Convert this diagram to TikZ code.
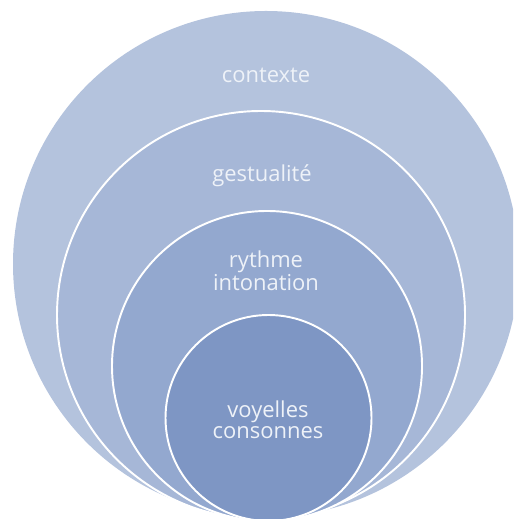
\documentclass[tikz,border=0pt]{standalone}
\usepackage{fontspec}
\setmainfont{Open Sans}
\definecolor{bleuA}{HTML}{B4C3DD}
\definecolor{bleuB}{HTML}{A6B7D7}
\definecolor{bleuC}{HTML}{93A8CF}
\definecolor{bleuD}{HTML}{7E96C4}
\definecolor{texte}{HTML}{EEF2F8}
\begin{document}
\begin{tikzpicture}[x=0.02cm, y=-0.02cm,
	couche/.style={draw=white, line width=1.1pt},
	etiquette/.style={text=texte, align=center, font=\fontsize{12.5}{12}\selectfont}]
	\useasboundingbox (0,0) rectangle (513,519);
	\clip (0,0) rectangle (513,519);

	% --- Cercles emboites ---
	\fill[bleuA] (266,264) circle (253);
	\draw[couche, fill=bleuB] (261,315) circle (204);
	\draw[couche, fill=bleuC] (267,366) circle (155);
	\draw[couche, fill=bleuD] (268.5,418) circle (103);

	% --- Etiquettes ---
	\node[etiquette] (contexte) at (266,75) {contexte};
	\node[etiquette] (gestualite) at (262,176) {gestualité};
	\node[etiquette] (rythme) at (266,271) {rythme\\intonation};
	\node[etiquette] (voyelles) at (268,420) {voyelles\\consonnes};
\end{tikzpicture}
\end{document}
